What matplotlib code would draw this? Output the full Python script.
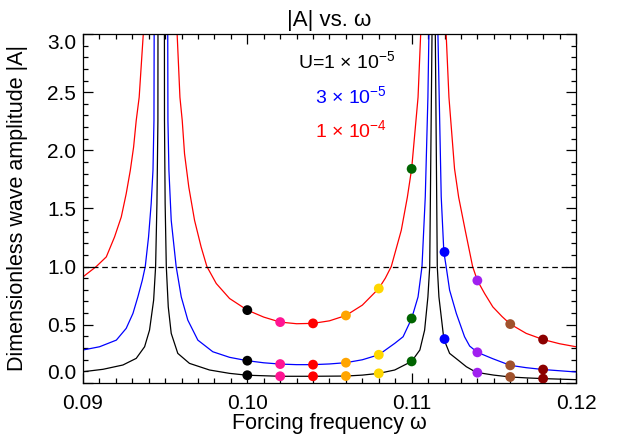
import numpy as np
import matplotlib
matplotlib.use('Agg')
from matplotlib import pyplot as plt

plt.rcParams['font.family'] = ['Liberation Sans', 'DejaVu Sans']
plt.rcParams['mathtext.fontset'] = 'custom'
plt.rcParams['mathtext.rm'] = 'Liberation Sans'
plt.rcParams['mathtext.it'] = 'Liberation Sans:italic'

# curve U=1e-5 (black); peaks go off the top
w_black = [0.0900, 0.09122, 0.09243, 0.09324, 0.09375, 0.09405, 0.0943, 0.09442, 0.0945, 0.09456,
           0.09476,
           0.09496, 0.095, 0.09507, 0.09519, 0.09537, 0.09577, 0.09648, 0.0977, 0.09892,
           0.100, 0.102, 0.104, 0.106, 0.107, 0.108, 0.10897, 0.110, 0.1105, 0.11079, 0.11099, 0.1111, 0.11124,
           0.11134,
           0.11144, 0.11156, 0.11166, 0.11196, 0.11231, 0.11282, 0.11333, 0.11393, 0.115, 0.116, 0.117, 0.118, 0.120]
a_black = [0.095, 0.116, 0.153, 0.21, 0.31, 0.453, 0.711, 1.0, 1.541, 2.256,
           40.0,
           2.256, 1.541, 1.0, 0.653, 0.425, 0.253, 0.167, 0.11, 0.081,
           0.065, 0.056, 0.056, 0.058, 0.066, 0.081, 0.11, 0.184, 0.282, 0.453, 0.739, 1.0, 3.0,
           40.0,
           3.0, 1.0, 0.739, 0.376, 0.253, 0.196, 0.138, 0.09, 0.066, 0.05, 0.042, 0.036, 0.027]

# curve U=3e-5 (blue)
w_blue = [0.0900, 0.09101, 0.09203, 0.09263, 0.09304, 0.09334, 0.09361, 0.09379, 0.09399, 0.09415, 0.09426, 0.09432,
          0.09475,
          0.09517, 0.09523, 0.09537, 0.09567, 0.09598, 0.09638, 0.09699, 0.0979, 0.09892,
          0.100, 0.101, 0.102, 0.103, 0.104, 0.105, 0.106, 0.107, 0.108, 0.10897, 0.10948, 0.110,
          0.11039, 0.11063, 0.11083, 0.11099, 0.11105,
          0.11134,
          0.1116, 0.1118, 0.11196, 0.1121, 0.11231, 0.11272, 0.11322, 0.11353, 0.114, 0.11494,
          0.116, 0.11697, 0.118, 0.120]
a_blue = [0.282, 0.31, 0.367, 0.468, 0.596, 0.739, 0.882, 1.0, 1.254, 1.541, 1.827, 2.256,
          30.0,
          2.256, 1.827, 1.397, 1.0, 0.739, 0.539, 0.367, 0.267, 0.219,
          0.19, 0.172, 0.161, 0.156, 0.156, 0.162, 0.173, 0.198, 0.241, 0.339, 0.396, 0.553,
          0.739, 1.0, 1.6, 2.456, 3.0,
          30.0,
          3.0, 1.6, 1.125, 1.0, 0.797, 0.596, 0.396, 0.316, 0.262, 0.207,
          0.150, 0.13, 0.114, 0.093]

# curve U=1e-4 (red)
w_red = [0.0900, 0.09081, 0.09142, 0.09192, 0.09233, 0.09263, 0.09288, 0.09308, 0.09324, 0.09342, 0.09367,
         0.0947,
         0.09573, 0.0959, 0.09604, 0.09618, 0.09644, 0.09679, 0.09719, 0.09754, 0.09811, 0.09892,
         0.100, 0.101, 0.102, 0.103, 0.104, 0.105, 0.106, 0.107, 0.108, 0.1084, 0.10876, 0.10937, 0.10974,
         0.110, 0.11039, 0.11055,
         0.1113,
         0.1121, 0.11227, 0.11261, 0.11286, 0.11326, 0.11371, 0.114, 0.11444, 0.11494, 0.1155,
         0.116, 0.11697, 0.118, 0.119, 0.120]
a_red = [0.911, 1.0, 1.083, 1.254, 1.426, 1.626, 1.827, 2.027, 2.256, 2.456, 3.0,
         20.0,
         3.0, 2.456, 2.256, 1.97, 1.683, 1.397, 1.168, 1.0, 0.854, 0.725,
         0.625, 0.565, 0.522, 0.508, 0.511, 0.533, 0.579, 0.668, 0.811, 0.9, 1.0, 1.312, 1.597,
         1.84, 2.456, 3.0,
         20.0,
         3.0, 2.456, 1.841, 1.597, 1.312, 1.0, 0.88, 0.768, 0.653, 0.57,
         0.505, 0.425, 0.372, 0.336, 0.31]

# marked forcing frequencies
dot_w = [0.100, 0.102, 0.104, 0.106, 0.108, 0.110, 0.112, 0.114, 0.116, 0.118]
dot_colors = ['black', '#FF1493', 'red', '#FFA500', '#FFD700', '#006400',
              'blue', '#A020F0', '#A0522D', '#8B0000']
dot_red = [0.625, 0.522, 0.511, 0.579, 0.811, 1.84, np.nan, 0.88, 0.505, 0.372]
dot_blue = [0.19, 0.161, 0.156, 0.173, 0.241, 0.553, 1.125, 0.262, 0.150, 0.114]
dot_black = [0.065, 0.056, 0.056, 0.058, 0.081, 0.184, 0.376, 0.087, 0.05, 0.036]

fig = plt.figure(figsize=(6.22, 4.41), dpi=100)
ax = fig.add_axes([0.1334, 0.132, 0.7926, 0.7909])

ax.plot(w_black, a_black, color='black', lw=0.9)
ax.plot(w_blue, a_blue, color='blue', lw=0.9)
ax.plot(w_red, a_red, color='red', lw=0.9)
ax.axhline(1.0, color='black', lw=0.9, dashes=(4.5, 3))

for vals in [dot_red, dot_blue, dot_black]:
    ax.scatter(dot_w, vals, c=dot_colors, s=50, zorder=3, linewidths=0)

ax.set_xlim(0.09, 0.12)
ax.set_ylim(0.0, 3.0)
ax.set_xticks([0.09, 0.10, 0.11, 0.12])
ax.set_xticklabels(['0.09', '0.10', '0.11', '0.12'])
ax.set_xticks(np.arange(0.09, 0.1201, 0.001), minor=True)
ax.set_yticks([0.0, 0.5, 1.0, 1.5, 2.0, 2.5, 3.0])
ax.set_yticklabels(['0.0', '0.5', '1.0', '1.5', '2.0', '2.5', '3.0'])
ax.set_yticks(np.arange(0.0, 3.01, 0.1), minor=True)
ax.tick_params(which='both', direction='in', top=True, right=True, labelsize=15, width=0.9)
ax.tick_params(which='major', length=7)
ax.tick_params(which='minor', length=3.6)
ax.tick_params(axis='x', pad=8)
ax.tick_params(axis='y', pad=5)
ylabs = ax.get_yticklabels()
ylabs[0].set_verticalalignment('bottom')
ylabs[-1].set_verticalalignment('top')
for s in ax.spines.values():
    s.set_linewidth(0.9)

ax.set_title('|A| vs. ω', fontsize=16, pad=6)
ax.set_xlabel('Forcing frequency ω', fontsize=15.5)
ax.set_ylabel('Dimensionless wave amplitude |A|', fontsize=15.5)
ax.xaxis.set_label_coords(0.5, -0.088)
ax.yaxis.set_label_coords(-0.112, 0.5)

ax.text(0.10307, 2.708, r'U=1 × 10$^{-5}$', color='black', fontsize=14, va='baseline')
ax.text(0.1041, 2.403, r'3 × 10$^{-5}$', color='blue', fontsize=14, va='baseline')
ax.text(0.1041, 2.113, r'1 × 10$^{-4}$', color='red', fontsize=14, va='baseline')

fig.savefig('out.png', dpi=100)
